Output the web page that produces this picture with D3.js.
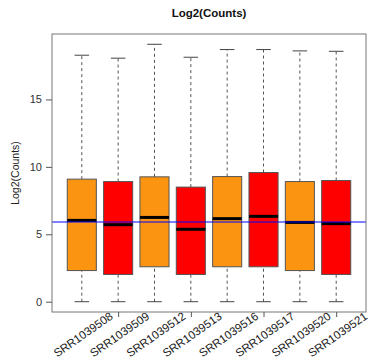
<!DOCTYPE html>
<html>
<head>
<meta charset="utf-8">
<script src="https://cdn.jsdelivr.net/npm/d3@7"></script>
<style>
  html, body { margin: 0; padding: 0; background: #fff; }
  svg text { font-family: "Liberation Sans", Arial, sans-serif; }
</style>
</head>
<body>
<svg id="chart" width="368" height="360"></svg>
<script>
// ---- data ----
const samples = ["SRR1039508","SRR1039509","SRR1039512","SRR1039513","SRR1039516","SRR1039517","SRR1039520","SRR1039521"];
const whiskerLow = [0, 0, 0, 0, 0, 0, 0, 0];
const q1 = [2.31, 2.02, 2.59, 2.02, 2.59, 2.59, 2.31, 2.02];
const medians = [6.03, 5.71, 6.25, 5.37, 6.16, 6.33, 5.88, 5.79];
const q3 = [9.09, 8.91, 9.26, 8.50, 9.28, 9.58, 8.91, 8.99];
const whiskerHigh = [18.28, 18.06, 19.09, 18.13, 18.70, 18.70, 18.60, 18.57];
const boxColors = ["#FB9411", "#FF0000", "#FB9411", "#FF0000", "#FB9411", "#FF0000", "#FB9411", "#FF0000"];
const refLine = 5.91;
const yTicks = [0, 5, 10, 15];
const xTicks = [2, 4, 6, 8];
const title = "Log2(Counts)";
const yLabel = "Log2(Counts)";

// ---- layout ----
const svg = d3.select("#chart");
const mLeft = 52, mRight = 366, mTop = 34, mBottom = 312;

const n = samples.length;
const xr = [0.5, n + 0.5];
const xpad = (xr[1] - xr[0]) * 0.04;
const x = d3.scaleLinear().domain([xr[0] - xpad, xr[1] + xpad]).range([mLeft, mRight]);

const ymin = d3.min(whiskerLow), ymax = d3.max(whiskerHigh);
const ypad = (ymax - ymin) * 0.04;
const y = d3.scaleLinear().domain([ymin - ypad, ymax + ypad]).range([mBottom, mTop]);

const data = samples.map((s, i) => ({
  name: s, pos: i + 1, lo: whiskerLow[i], q1: q1[i], med: medians[i], q3: q3[i], hi: whiskerHigh[i], color: boxColors[i]
}));

const boxW = x(0.8) - x(0);
const capW = boxW / 2;

const g = svg.append("g");

// whiskers (dashed)
g.selectAll(".wlo").data(data).enter().append("line")
  .attr("x1", d => x(d.pos)).attr("x2", d => x(d.pos))
  .attr("y1", d => y(d.lo)).attr("y2", d => y(d.q1))
  .attr("stroke", "#555").attr("stroke-width", 1).attr("stroke-dasharray", "3,3");
g.selectAll(".whi").data(data).enter().append("line")
  .attr("x1", d => x(d.pos)).attr("x2", d => x(d.pos))
  .attr("y1", d => y(d.q3)).attr("y2", d => y(d.hi))
  .attr("stroke", "#555").attr("stroke-width", 1).attr("stroke-dasharray", "3,3");
// caps
g.selectAll(".caplo").data(data).enter().append("line")
  .attr("x1", d => x(d.pos) - capW / 2).attr("x2", d => x(d.pos) + capW / 2)
  .attr("y1", d => y(d.lo)).attr("y2", d => y(d.lo))
  .attr("stroke", "#444").attr("stroke-width", 1);
g.selectAll(".caphi").data(data).enter().append("line")
  .attr("x1", d => x(d.pos) - capW / 2).attr("x2", d => x(d.pos) + capW / 2)
  .attr("y1", d => y(d.hi)).attr("y2", d => y(d.hi))
  .attr("stroke", "#444").attr("stroke-width", 1);
// boxes
g.selectAll(".box").data(data).enter().append("rect")
  .attr("x", d => x(d.pos) - boxW / 2)
  .attr("width", boxW)
  .attr("y", d => y(d.q3))
  .attr("height", d => y(d.q1) - y(d.q3))
  .attr("fill", d => d.color)
  .attr("stroke", "#555").attr("stroke-width", 1);
// medians
g.selectAll(".med").data(data).enter().append("line")
  .attr("x1", d => x(d.pos) - boxW / 2).attr("x2", d => x(d.pos) + boxW / 2)
  .attr("y1", d => y(d.med)).attr("y2", d => y(d.med))
  .attr("stroke", "#000").attr("stroke-width", 3);

// reference line
svg.append("line")
  .attr("x1", mLeft).attr("x2", mRight)
  .attr("y1", y(refLine)).attr("y2", y(refLine))
  .attr("stroke", "#0000FF").attr("stroke-width", 1);

// frame
svg.append("rect")
  .attr("x", mLeft).attr("y", mTop)
  .attr("width", mRight - mLeft).attr("height", mBottom - mTop)
  .attr("fill", "none").attr("stroke", "#777").attr("stroke-width", 1);

// y axis
const yAxis = d3.axisLeft(y).tickValues(yTicks).tickSize(6).tickPadding(4).tickFormat(d3.format("d"));
const ya = svg.append("g").attr("transform", `translate(${mLeft},0)`).call(yAxis);
ya.select(".domain").remove();
ya.selectAll(".tick line").attr("stroke", "#555");
ya.selectAll(".tick text").attr("font-size", 11).attr("fill", "#333");

// x axis ticks (no labels)
const xAxis = d3.axisBottom(x).tickValues(xTicks).tickSize(5).tickFormat("");
const xa = svg.append("g").attr("transform", `translate(0,${mBottom})`).call(xAxis);
xa.select(".domain").remove();
xa.selectAll(".tick line").attr("stroke", "#555");

// x labels (rotated)
svg.selectAll(".xlab").data(data).enter().append("text")
  .attr("transform", d => `translate(${x(d.pos) + 32},${mBottom + 6}) rotate(-35)`)
  .attr("text-anchor", "end")
  .attr("font-size", 11.5)
  .attr("fill", "#222")
  .text(d => d.name);

// title
svg.append("text")
  .attr("x", (mLeft + mRight) / 2).attr("y", 17)
  .attr("text-anchor", "middle")
  .attr("font-size", 11.5).attr("font-weight", "bold")
  .attr("fill", "#111")
  .text(title);

// y label
svg.append("text")
  .attr("transform", `translate(19,${(mTop + mBottom) / 2}) rotate(-90)`)
  .attr("text-anchor", "middle")
  .attr("font-size", 10.5)
  .attr("fill", "#222")
  .text(yLabel);
</script>
</body>
</html>
